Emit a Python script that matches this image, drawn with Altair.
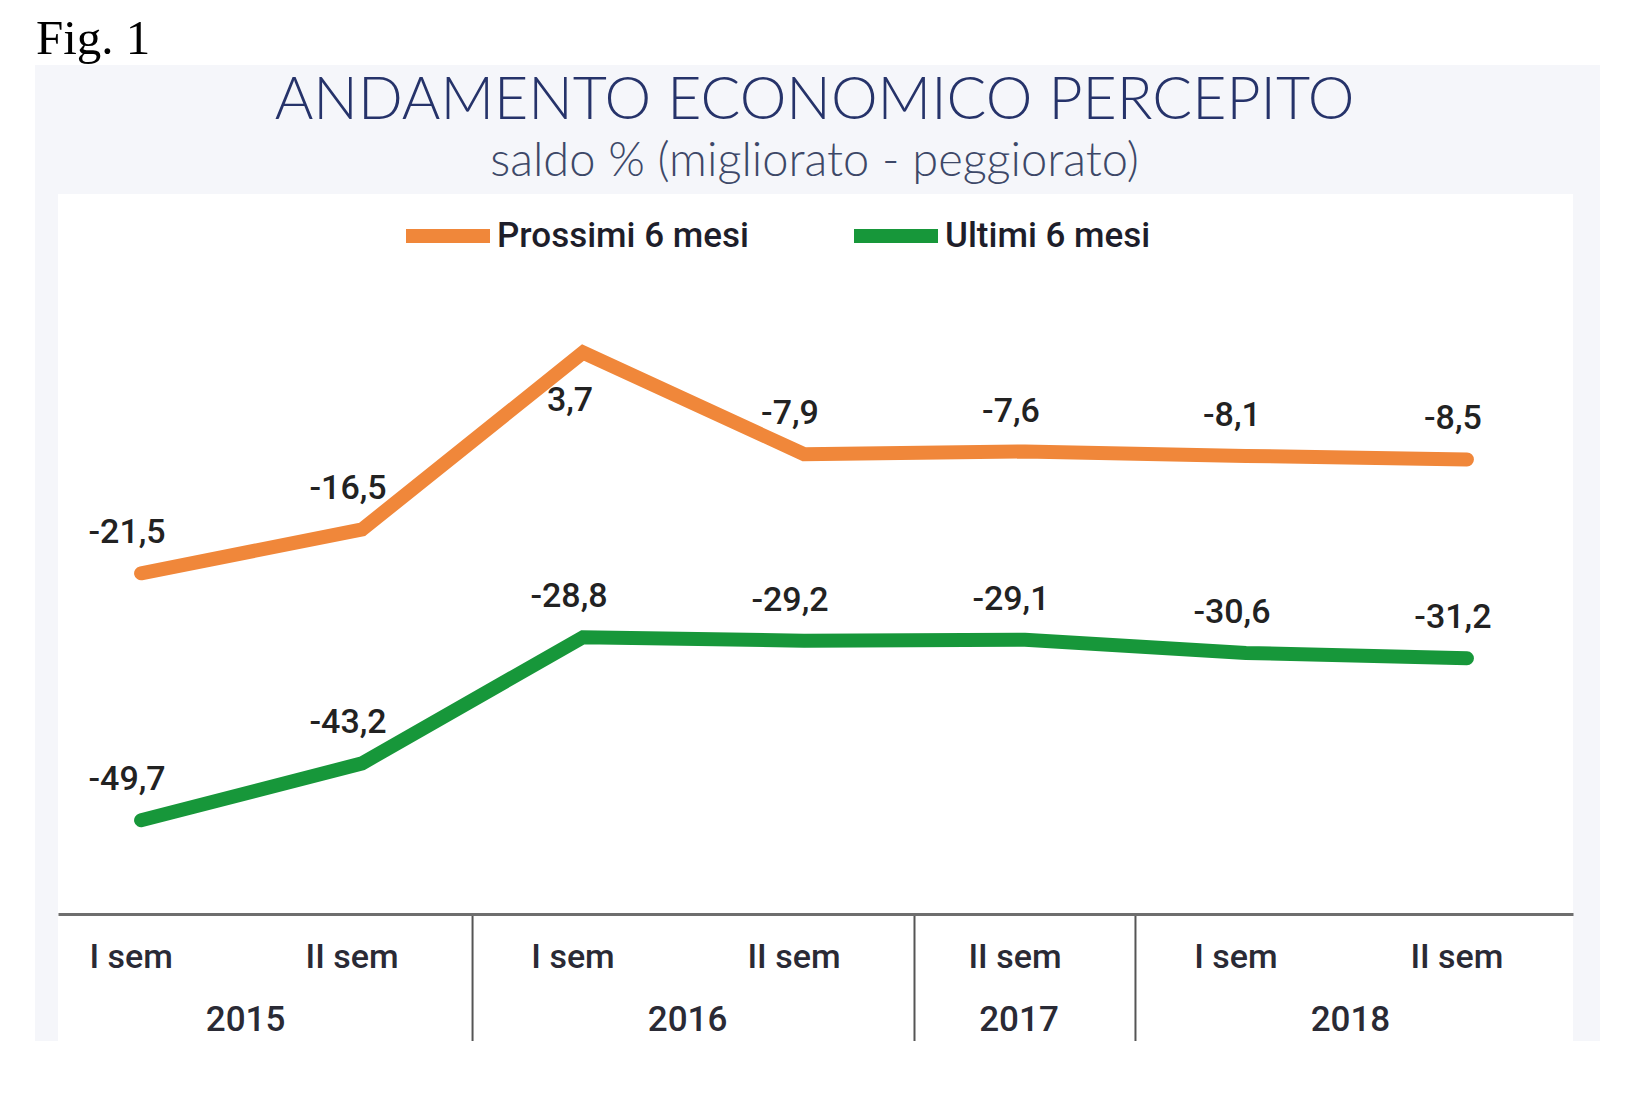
import altair as alt
import pandas as pd

# ---- data ----
semesters = ["I sem", "II sem", "I sem", "II sem", "II sem", "I sem", "II sem"]
years = ["2015", "2015", "2016", "2016", "2017", "2018", "2018"]
prossimi = [-21.5, -16.5, 3.7, -7.9, -7.6, -8.1, -8.5]
ultimi = [-49.7, -43.2, -28.8, -29.2, -29.1, -30.6, -31.2]
series_names = ["Prossimi 6 mesi", "Ultimi 6 mesi"]
series_colors = ["#f0873a", "#17973a"]

title_text = "ANDAMENTO ECONOMICO PERCEPITO"
subtitle_text = "saldo % (migliorato - peggiorato)"
fig_text = "Fig. 1"

W, H = 1515, 720
COND = "Roboto, sans-serif"

pos = list(range(len(semesters)))
rows = []
for name, vals in zip(series_names, [prossimi, ultimi]):
    for p, v in zip(pos, vals):
        rows.append({"series": name, "pos": p, "value": v,
                     "label": f"{v:.1f}".replace(".", ",")})
df = pd.DataFrame(rows)

cat_df = pd.DataFrame({"pos": pos, "sem": semesters, "year": years})
year_df = cat_df.groupby("year", as_index=False)["pos"].mean()
seps = []
for i in range(1, len(years)):
    if years[i] != years[i - 1]:
        seps.append((pos[i] + pos[i - 1]) / 2)
sep_df = pd.DataFrame({"pos": seps})

xscale = alt.Scale(domain=[-0.376, 6.48], nice=False, zero=False)
yscale = alt.Scale(domain=[-60.4, 21.8], nice=False, zero=False)
X = alt.X("pos:Q", scale=xscale,
          axis=alt.Axis(labels=False, ticks=False, grid=False, title=None,
                        domainColor="#6e6e6e", domainWidth=3, zindex=1))

one = pd.DataFrame({"a": [0]})

panel = alt.Chart(one).mark_rect(color="#f5f6fa").encode(
    x=alt.value(-23), x2=alt.value(1542), y=alt.value(-129), y2=alt.value(847))
white = alt.Chart(one).mark_rect(color="#ffffff").encode(
    x=alt.value(0), x2=alt.value(W), y=alt.value(0), y2=alt.value(847))

lines = alt.Chart(df).mark_line(strokeWidth=14, strokeCap="round", strokeJoin="miter").encode(
    x=X,
    y=alt.Y("value:Q", scale=yscale, axis=None),
    color=alt.Color("series:N",
                    scale=alt.Scale(domain=series_names, range=series_colors),
                    legend=alt.Legend(title=None, orient="none", legendX=341, legendY=-7,
                                      direction="horizontal", symbolType="stroke",
                                      symbolSize=7056, symbolStrokeWidth=14,
                                      labelFont=COND, labelFontSize=35, labelFontWeight=500,
                                      labelColor="#1e1e2a", labelOffset=0, columnPadding=77,
                                      labelLimit=500, padding=0)),
    detail="series:N",
)

LBL = dict(font=COND, fontSize=34, fontWeight=500, color="#222222",
           baseline="middle", align="center")
labels_above = alt.Chart(df).transform_filter("datum.value <= 0").mark_text(
    dx=-14, dy=-40, **LBL).encode(
    x=alt.X("pos:Q", scale=xscale), y=alt.Y("value:Q", scale=yscale), text="label:N")
labels_below = alt.Chart(df).transform_filter("datum.value > 0").mark_text(
    dx=-13, dy=48, **LBL).encode(
    x=alt.X("pos:Q", scale=xscale), y=alt.Y("value:Q", scale=yscale), text="label:N")

separators = alt.Chart(sep_df).mark_rule(color="#555555", strokeWidth=2).encode(
    x=alt.X("pos:Q", scale=xscale), y=alt.value(H), y2=alt.value(847))

sem_text = alt.Chart(cat_df).mark_text(font=COND, fontSize=34, fontWeight=500,
                                       color="#2a2a35", dx=-10, baseline="middle").encode(
    x=alt.X("pos:Q", scale=xscale), y=alt.value(764), text="sem:N")
year_text = alt.Chart(year_df).mark_text(font=COND, fontSize=35, fontWeight=500,
                                         color="#2a2a35", dx=-6, baseline="middle").encode(
    x=alt.X("pos:Q", scale=xscale), y=alt.value(826), text="year:N")

title = alt.Chart(pd.DataFrame({"t": [title_text]})).mark_text(
    font="Lato", fontSize=59, fontWeight=300, color="#26336a", align="center",
    baseline="alphabetic").encode(x=alt.value(W / 2 - 1), y=alt.value(-75), text="t:N")
subtitle = alt.Chart(pd.DataFrame({"t": [subtitle_text]})).mark_text(
    font="Lato", fontSize=47, fontWeight=300, color="#3d4868", align="center",
    baseline="alphabetic").encode(x=alt.value(W / 2 - 1), y=alt.value(-18), text="t:N")
fig = alt.Chart(pd.DataFrame({"t": [fig_text]})).mark_text(
    font="Liberation Serif", fontSize=49, color="#000000", align="left",
    baseline="alphabetic").encode(x=alt.value(-22), y=alt.value(-140), text="t:N")

chart = alt.layer(panel, white, separators, lines, labels_above, labels_below,
                  sem_text, year_text, title, subtitle, fig).properties(
    width=W, height=H,
    autosize=alt.AutoSizeParams(type="none"),
    padding={"left": 50, "top": 186, "right": 45, "bottom": 150},
    background="#ffffff",
).configure_view(strokeWidth=0)

chart.save("out.html", embed_options={"renderer": "svg", "actions": False})
